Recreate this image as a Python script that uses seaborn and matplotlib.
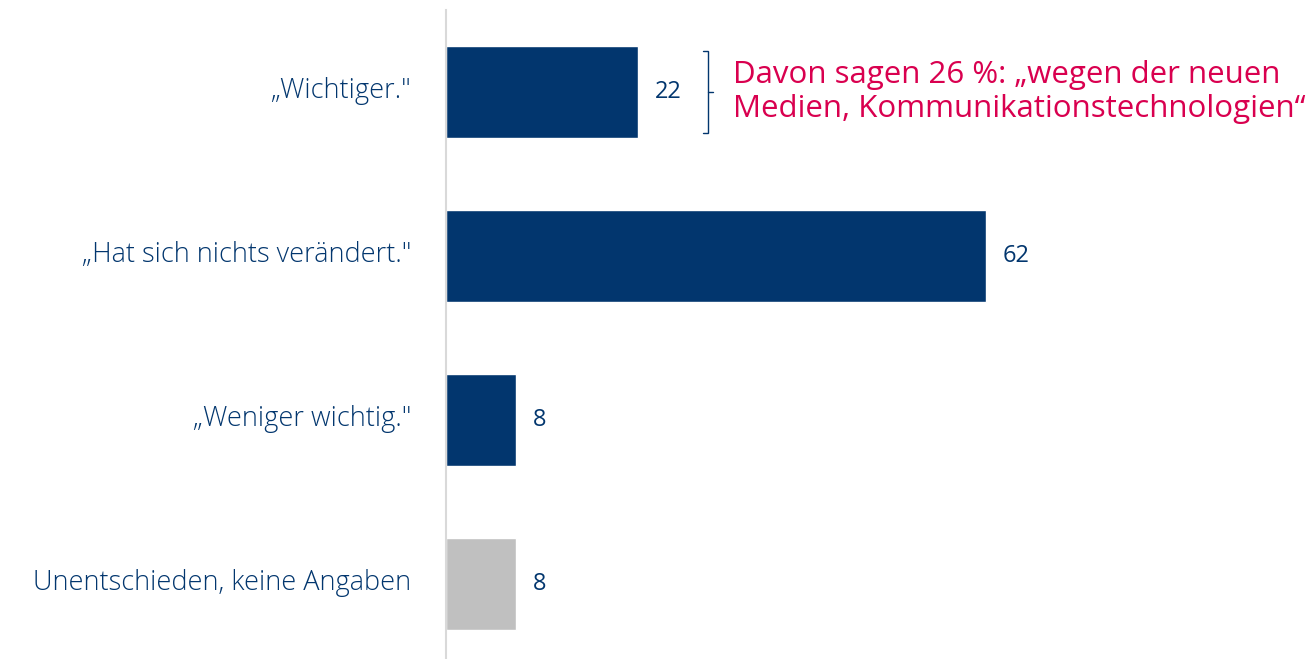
import matplotlib
matplotlib.use("Agg")
import matplotlib.pyplot as plt
import matplotlib.transforms as mtransforms
import seaborn as sns
import pandas as pd

categories = ["„Wichtiger.\"", "„Hat sich nichts verändert.\"", "„Weniger wichtig.\"", "Unentschieden, keine Angaben"]
values = [22, 62, 8, 8]
bar_colors = ["#02366E", "#02366E", "#02366E", "#C0C0C0"]
note_text = "Davon sagen 26 %: „wegen der neuen\nMedien, Kommunikationstechnologien“"

BLUE = "#02366E"
RED = "#D9004F"

sns.set_theme(style="white")
plt.rcParams["font.family"] = ["Open Sans", "DejaVu Sans"]

df = pd.DataFrame({"cat": categories, "val": values})

fig = plt.figure(figsize=(13.13, 6.59), dpi=100)
ax = fig.add_axes([446 / 1313, 0, 867 / 1313, 649 / 659])

sns.barplot(data=df, y="cat", x="val", hue="cat", palette=bar_colors,
            legend=False, width=0.56, ax=ax, saturation=1, orient="h")

ax.set_xlim(0, 99.6)
ax.set_ylim(3.457, -0.5)
ax.set_xlabel("")
ax.set_ylabel("")
ax.set_xticks([])
for s in ["top", "right", "bottom"]:
    ax.spines[s].set_visible(False)
ax.spines["left"].set_color("#D9D9D9")
ax.spines["left"].set_linewidth(1.5)
ax.tick_params(axis="y", length=0, pad=25)
shift = mtransforms.ScaledTranslation(0, 5 / 100, fig.dpi_scale_trans)
for lab in ax.get_yticklabels():
    lab.set_fontsize(19.5)
    lab.set_color(BLUE)
    lab.set_fontweight("light")
    lab.set_transform(lab.get_transform() + shift)

for i, v in enumerate(values):
    ax.text(v + 2.0, i, f"{v}", va="center", ha="left", fontsize=17,
            color=BLUE, fontweight="medium")

# bracket next to first bar
bx = values[0] + 8.1
h = 0.25
ax.plot([bx - 0.6, bx, bx, bx - 0.6], [-h, -h, h, h], color=BLUE, lw=1.0,
        solid_joinstyle="miter")
ax.plot([bx, bx + 0.6], [0, 0], color=BLUE, lw=1.0)

ax.text(bx + 2.9, 0.0, note_text, va="center", ha="left", fontsize=22.5,
        color=RED, fontweight="medium", linespacing=1.15)

fig.savefig("out.png", dpi=100)
